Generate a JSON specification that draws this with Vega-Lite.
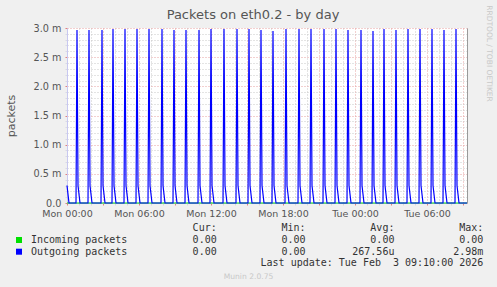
{
"$schema": "https://vega.github.io/schema/vega-lite/v6.json",
"width": 400, "height": 175,
"autosize": "none",
"padding": {"left": 67, "top": 28, "right": 30, "bottom": 84},
"background": "#f0f0f0",
"config": {"view": {"fill": "#ffffff", "stroke": null}, "font": "DejaVu Sans"},
"title": {"text": "Packets on eth0.2 - by day", "anchor": "middle", "dx": -14, "offset": -17, "font": "DejaVu Sans", "fontSize": 13, "fontWeight": "normal", "color": "#555555"},
"datasets": {
"packets": [
{"s":"Incoming packets","t":"2026-02-02T00:00Z","v":0},
{"s":"Incoming packets","t":"2026-02-03T09:20Z","v":0},
{"s":"Outgoing packets","t":"2026-02-02T00:00Z","v":0.0003},
{"s":"Outgoing packets","t":"2026-02-02T00:10Z","v":0},
{"s":"Outgoing packets","t":"2026-02-02T00:45Z","v":0},{"s":"Outgoing packets","t":"2026-02-02T00:50Z","v":0.002966},{"s":"Outgoing packets","t":"2026-02-02T00:55Z","v":0.0003},{"s":"Outgoing packets","t":"2026-02-02T01:05Z","v":0},
{"s":"Outgoing packets","t":"2026-02-02T01:45Z","v":0},{"s":"Outgoing packets","t":"2026-02-02T01:50Z","v":0.002966},{"s":"Outgoing packets","t":"2026-02-02T01:55Z","v":0.0003},{"s":"Outgoing packets","t":"2026-02-02T02:05Z","v":0},
{"s":"Outgoing packets","t":"2026-02-02T02:50Z","v":0},{"s":"Outgoing packets","t":"2026-02-02T02:55Z","v":0.002966},{"s":"Outgoing packets","t":"2026-02-02T03:00Z","v":0.0003},{"s":"Outgoing packets","t":"2026-02-02T03:10Z","v":0},
{"s":"Outgoing packets","t":"2026-02-02T03:45Z","v":0},{"s":"Outgoing packets","t":"2026-02-02T03:50Z","v":0.002983},{"s":"Outgoing packets","t":"2026-02-02T03:55Z","v":0.0003},{"s":"Outgoing packets","t":"2026-02-02T04:05Z","v":0},
{"s":"Outgoing packets","t":"2026-02-02T04:45Z","v":0},{"s":"Outgoing packets","t":"2026-02-02T04:50Z","v":0.002983},{"s":"Outgoing packets","t":"2026-02-02T04:55Z","v":0.0003},{"s":"Outgoing packets","t":"2026-02-02T05:05Z","v":0},
{"s":"Outgoing packets","t":"2026-02-02T05:45Z","v":0},{"s":"Outgoing packets","t":"2026-02-02T05:50Z","v":0.002983},{"s":"Outgoing packets","t":"2026-02-02T05:55Z","v":0.0003},{"s":"Outgoing packets","t":"2026-02-02T06:05Z","v":0},
{"s":"Outgoing packets","t":"2026-02-02T06:45Z","v":0},{"s":"Outgoing packets","t":"2026-02-02T06:50Z","v":0.002983},{"s":"Outgoing packets","t":"2026-02-02T06:55Z","v":0.0003},{"s":"Outgoing packets","t":"2026-02-02T07:05Z","v":0},
{"s":"Outgoing packets","t":"2026-02-02T07:50Z","v":0},{"s":"Outgoing packets","t":"2026-02-02T07:55Z","v":0.002983},{"s":"Outgoing packets","t":"2026-02-02T08:00Z","v":0.0003},{"s":"Outgoing packets","t":"2026-02-02T08:10Z","v":0},
{"s":"Outgoing packets","t":"2026-02-02T08:50Z","v":0},{"s":"Outgoing packets","t":"2026-02-02T08:55Z","v":0.002966},{"s":"Outgoing packets","t":"2026-02-02T09:00Z","v":0.0003},{"s":"Outgoing packets","t":"2026-02-02T09:10Z","v":0},
{"s":"Outgoing packets","t":"2026-02-02T09:50Z","v":0},{"s":"Outgoing packets","t":"2026-02-02T09:55Z","v":0.002966},{"s":"Outgoing packets","t":"2026-02-02T10:00Z","v":0.0003},{"s":"Outgoing packets","t":"2026-02-02T10:10Z","v":0},
{"s":"Outgoing packets","t":"2026-02-02T10:55Z","v":0},{"s":"Outgoing packets","t":"2026-02-02T11:00Z","v":0.002966},{"s":"Outgoing packets","t":"2026-02-02T11:05Z","v":0.0003},{"s":"Outgoing packets","t":"2026-02-02T11:15Z","v":0},
{"s":"Outgoing packets","t":"2026-02-02T11:55Z","v":0},{"s":"Outgoing packets","t":"2026-02-02T12:00Z","v":0.002983},{"s":"Outgoing packets","t":"2026-02-02T12:05Z","v":0.0003},{"s":"Outgoing packets","t":"2026-02-02T12:15Z","v":0},
{"s":"Outgoing packets","t":"2026-02-02T13:00Z","v":0},{"s":"Outgoing packets","t":"2026-02-02T13:05Z","v":0.002983},{"s":"Outgoing packets","t":"2026-02-02T13:10Z","v":0.0003},{"s":"Outgoing packets","t":"2026-02-02T13:20Z","v":0},
{"s":"Outgoing packets","t":"2026-02-02T14:05Z","v":0},{"s":"Outgoing packets","t":"2026-02-02T14:10Z","v":0.002983},{"s":"Outgoing packets","t":"2026-02-02T14:15Z","v":0.0003},{"s":"Outgoing packets","t":"2026-02-02T14:25Z","v":0},
{"s":"Outgoing packets","t":"2026-02-02T15:05Z","v":0},{"s":"Outgoing packets","t":"2026-02-02T15:10Z","v":0.002983},{"s":"Outgoing packets","t":"2026-02-02T15:15Z","v":0.0003},{"s":"Outgoing packets","t":"2026-02-02T15:25Z","v":0},
{"s":"Outgoing packets","t":"2026-02-02T16:05Z","v":0},{"s":"Outgoing packets","t":"2026-02-02T16:10Z","v":0.002966},{"s":"Outgoing packets","t":"2026-02-02T16:15Z","v":0.0003},{"s":"Outgoing packets","t":"2026-02-02T16:25Z","v":0},
{"s":"Outgoing packets","t":"2026-02-02T17:05Z","v":0},{"s":"Outgoing packets","t":"2026-02-02T17:10Z","v":0.002949},{"s":"Outgoing packets","t":"2026-02-02T17:15Z","v":0.0003},{"s":"Outgoing packets","t":"2026-02-02T17:25Z","v":0},
{"s":"Outgoing packets","t":"2026-02-02T18:10Z","v":0},{"s":"Outgoing packets","t":"2026-02-02T18:15Z","v":0.002983},{"s":"Outgoing packets","t":"2026-02-02T18:20Z","v":0.0003},{"s":"Outgoing packets","t":"2026-02-02T18:30Z","v":0},
{"s":"Outgoing packets","t":"2026-02-02T19:15Z","v":0},{"s":"Outgoing packets","t":"2026-02-02T19:20Z","v":0.002983},{"s":"Outgoing packets","t":"2026-02-02T19:25Z","v":0.0003},{"s":"Outgoing packets","t":"2026-02-02T19:35Z","v":0},
{"s":"Outgoing packets","t":"2026-02-02T20:15Z","v":0},{"s":"Outgoing packets","t":"2026-02-02T20:20Z","v":0.002983},{"s":"Outgoing packets","t":"2026-02-02T20:25Z","v":0.0003},{"s":"Outgoing packets","t":"2026-02-02T20:35Z","v":0},
{"s":"Outgoing packets","t":"2026-02-02T21:20Z","v":0},{"s":"Outgoing packets","t":"2026-02-02T21:25Z","v":0.002983},{"s":"Outgoing packets","t":"2026-02-02T21:30Z","v":0.0003},{"s":"Outgoing packets","t":"2026-02-02T21:40Z","v":0},
{"s":"Outgoing packets","t":"2026-02-02T22:20Z","v":0},{"s":"Outgoing packets","t":"2026-02-02T22:25Z","v":0.002983},{"s":"Outgoing packets","t":"2026-02-02T22:30Z","v":0.0003},{"s":"Outgoing packets","t":"2026-02-02T22:40Z","v":0},
{"s":"Outgoing packets","t":"2026-02-02T23:20Z","v":0},{"s":"Outgoing packets","t":"2026-02-02T23:25Z","v":0.002966},{"s":"Outgoing packets","t":"2026-02-02T23:30Z","v":0.0003},{"s":"Outgoing packets","t":"2026-02-02T23:40Z","v":0},
{"s":"Outgoing packets","t":"2026-02-03T00:25Z","v":0},{"s":"Outgoing packets","t":"2026-02-03T00:30Z","v":0.002966},{"s":"Outgoing packets","t":"2026-02-03T00:35Z","v":0.0003},{"s":"Outgoing packets","t":"2026-02-03T00:45Z","v":0},
{"s":"Outgoing packets","t":"2026-02-03T01:25Z","v":0},{"s":"Outgoing packets","t":"2026-02-03T01:30Z","v":0.002949},{"s":"Outgoing packets","t":"2026-02-03T01:35Z","v":0.0003},{"s":"Outgoing packets","t":"2026-02-03T01:45Z","v":0},
{"s":"Outgoing packets","t":"2026-02-03T02:20Z","v":0},{"s":"Outgoing packets","t":"2026-02-03T02:25Z","v":0.002983},{"s":"Outgoing packets","t":"2026-02-03T02:30Z","v":0.0003},{"s":"Outgoing packets","t":"2026-02-03T02:40Z","v":0},
{"s":"Outgoing packets","t":"2026-02-03T03:20Z","v":0},{"s":"Outgoing packets","t":"2026-02-03T03:25Z","v":0.002966},{"s":"Outgoing packets","t":"2026-02-03T03:30Z","v":0.0003},{"s":"Outgoing packets","t":"2026-02-03T03:40Z","v":0},
{"s":"Outgoing packets","t":"2026-02-03T04:20Z","v":0},{"s":"Outgoing packets","t":"2026-02-03T04:25Z","v":0.002983},{"s":"Outgoing packets","t":"2026-02-03T04:30Z","v":0.0003},{"s":"Outgoing packets","t":"2026-02-03T04:40Z","v":0},
{"s":"Outgoing packets","t":"2026-02-03T05:20Z","v":0},{"s":"Outgoing packets","t":"2026-02-03T05:25Z","v":0.002983},{"s":"Outgoing packets","t":"2026-02-03T05:30Z","v":0.0003},{"s":"Outgoing packets","t":"2026-02-03T05:40Z","v":0},
{"s":"Outgoing packets","t":"2026-02-03T06:20Z","v":0},{"s":"Outgoing packets","t":"2026-02-03T06:25Z","v":0.002983},{"s":"Outgoing packets","t":"2026-02-03T06:30Z","v":0.0003},{"s":"Outgoing packets","t":"2026-02-03T06:40Z","v":0},
{"s":"Outgoing packets","t":"2026-02-03T07:20Z","v":0},{"s":"Outgoing packets","t":"2026-02-03T07:25Z","v":0.002966},{"s":"Outgoing packets","t":"2026-02-03T07:30Z","v":0.0003},{"s":"Outgoing packets","t":"2026-02-03T07:40Z","v":0},
{"s":"Outgoing packets","t":"2026-02-03T08:20Z","v":0},{"s":"Outgoing packets","t":"2026-02-03T08:25Z","v":0.002983},{"s":"Outgoing packets","t":"2026-02-03T08:30Z","v":0.0003},{"s":"Outgoing packets","t":"2026-02-03T08:40Z","v":0},
{"s":"Outgoing packets","t":"2026-02-03T09:20Z","v":0}
],
"stats": [
{"series":"Incoming packets","Cur":"0.00","Min":"0.00","Avg":"0.00","Max":"0.00"},
{"series":"Outgoing packets","Cur":"0.00","Min":"0.00","Avg":"267.56u","Max":"2.98m"}
],
"update": [{"line":"Last update: Tue Feb  3 09:10:00 2026"}]
},
"layer": [
{
"data": {"name": "packets"},
"encoding": {
"x": {"field": "t", "type": "temporal",
"scale": {"type": "utc", "domain": [1769990400000, 1770110400000], "nice": false},
"axis": {
"values": [1769990400000,1769994000000,1769997600000,1770001200000,1770004800000,1770008400000,1770012000000,1770015600000,1770019200000,1770022800000,1770026400000,1770030000000,1770033600000,1770037200000,1770040800000,1770044400000,1770048000000,1770051600000,1770055200000,1770058800000,1770062400000,1770066000000,1770069600000,1770073200000,1770076800000,1770080400000,1770084000000,1770087600000,1770091200000,1770094800000,1770098400000,1770102000000,1770105600000,1770109200000],
"labelExpr": "utchours(datum.value) % 6 == 0 ? utcFormat(datum.value, '%a %H:%M') : ''",
"labelOverlap": false, "labelFlush": false, "labelBound": false,
"labelFont": "DejaVu Sans", "labelFontSize": 9.5, "labelColor": "#555555", "labelPadding": 3,
"grid": true, "gridDash": [1, 2],
"gridColor": {"condition": {"test": "utchours(datum.value) % 3 == 0", "value": "#e6a0a0"}, "value": "#c8c8c8"},
"tickColor": {"condition": {"test": "utchours(datum.value) % 3 == 0", "value": "#e08080"}, "value": "#d8d8d8"},
"tickSize": 2,
"domainColor": "#c8c8f0",
"title": "Munin 2.0.75", "titleX": 181, "titleY": 73, "titleBaseline": "middle", "titleAlign": "center",
"titleFont": "DejaVu Sans", "titleFontSize": 7.6, "titleFontWeight": "normal", "titleColor": "#c8c8c8"
}},
"color": {"field": "s", "type": "nominal",
"scale": {"domain": ["Incoming packets", "Outgoing packets"], "range": ["#00e000", "#0000ff"]},
"legend": {"orient": "none", "legendX": -53, "legendY": 207, "title": null, "padding": 0,
"symbolType": "square", "symbolSize": 36, "symbolStrokeWidth": 0,
"labelFont": "DejaVu Sans Mono", "labelFontSize": 10, "labelColor": "#333333", "labelOffset": 7, "rowPadding": 1.7,
"encode": {"symbols": {"update": {"fill": {"scale": "color", "field": "value"}, "opacity": {"value": 1}}}}}
}
},
"layer": [
{
"transform": [{"filter": "datum.s == 'Incoming packets'"}],
"mark": {"type": "line", "strokeWidth": 1},
"encoding": {"y": {"field": "v", "type": "quantitative",
"scale": {"domain": [0, 0.003], "nice": false},
"axis": {"orient": "right", "labels": false, "ticks": false, "grid": false, "domainColor": "#9a9a9a",
"title": "RRDTOOL / TOBI OETIKER", "titleAngle": 90, "titleX": 21.5, "titleY": 25, "titleAlign": "center", "titleBaseline": "middle",
"titleFont": "DejaVu Sans", "titleFontSize": 7.5, "titleFontWeight": "normal", "titleColor": "#c8c8c8"}}}
},
{
"transform": [{"filter": "datum.s == 'Outgoing packets'"}],
"mark": {"type": "line", "strokeWidth": 1.2},
"encoding": {"y": {"field": "v", "type": "quantitative",
"scale": {"domain": [0, 0.003], "nice": false},
"axis": {"orient": "left",
"values": [0,0.0001,0.0002,0.0003,0.0004,0.0005,0.0006,0.0007,0.0008,0.0009,0.001,0.0011,0.0012,0.0013,0.0014,0.0015,0.0016,0.0017,0.0018,0.0019,0.002,0.0021,0.0022,0.0023,0.0024,0.0025,0.0026,0.0027,0.0028,0.0029,0.003],
"labelExpr": "abs(datum.value*2000 - round(datum.value*2000)) < 0.01 ? (datum.value == 0 ? '0.0' : format(datum.value*1000, '.1f') + ' m') : ''",
"labelOverlap": false, "labelBound": false, "labelFlush": false,
"labelFont": "DejaVu Sans", "labelFontSize": 9.7, "labelColor": "#555555", "labelPadding": 4,
"grid": true, "gridDash": [1, 2],
"gridColor": {"condition": {"test": "abs(datum.value*2000 - round(datum.value*2000)) < 0.01", "value": "#e6a0a0"}, "value": "#c8c8c8"},
"tickColor": {"condition": {"test": "abs(datum.value*2000 - round(datum.value*2000)) < 0.01", "value": "#e08080"}, "value": "#d8d8e8"},
"tickSize": 2,
"domainColor": "#c8c8f0",
"title": "packets", "titleFont": "DejaVu Sans", "titleFontSize": 11, "titleFontWeight": "normal", "titleColor": "#555555", "titlePadding": 17}}}
}
],
"resolve": {"scale": {"y": "independent"}}
},
{
"layer": [
{
"data": {"name": "stats"},
"transform": [{"fold": ["Cur", "Min", "Avg", "Max"], "as": ["key", "val"]},
{"calculate": "isNaN(+datum.val) ? datum.val : datum.val + '\u00a0'", "as": "txt"}],
"mark": {"type": "text", "align": "right", "baseline": "middle", "font": "DejaVu Sans Mono", "fontSize": 10, "color": "#333333"},
"encoding": {
"x": {"field": "key", "type": "nominal", "scale": {"type": "point", "domain": ["Cur", "Min", "Avg", "Max"], "range": [149.7, 416.3], "padding": 0}, "axis": null},
"y": {"field": "series", "type": "nominal", "scale": {"type": "point", "domain": ["header", "Incoming packets", "Outgoing packets", "update"], "range": [200.3, 235.3], "padding": 0}, "axis": null},
"text": {"field": "txt"}
}
},
{
"data": {"name": "stats"},
"transform": [{"filter": "datum.series == 'Incoming packets'"},
{"fold": ["Cur", "Min", "Avg", "Max"], "as": ["key", "val"]},
{"calculate": "datum.key + ':\u00a0\u00a0'", "as": "hdr"}],
"mark": {"type": "text", "align": "right", "baseline": "middle", "font": "DejaVu Sans Mono", "fontSize": 10, "color": "#333333"},
"encoding": {
"x": {"field": "key", "type": "nominal"},
"y": {"datum": "header", "type": "nominal"},
"text": {"field": "hdr"}
}
},
{
"data": {"name": "update"},
"transform": [{"calculate": "replace(datum.line, / /g, '\u00a0')", "as": "txt"}],
"mark": {"type": "text", "align": "right", "baseline": "middle", "font": "DejaVu Sans Mono", "fontSize": 10, "color": "#333333"},
"encoding": {
"x": {"datum": "Max", "type": "nominal"},
"y": {"datum": "update", "type": "nominal"},
"text": {"field": "txt"}
}
}
]
}
],
"resolve": {"scale": {"x": "independent", "y": "independent"}}
}
